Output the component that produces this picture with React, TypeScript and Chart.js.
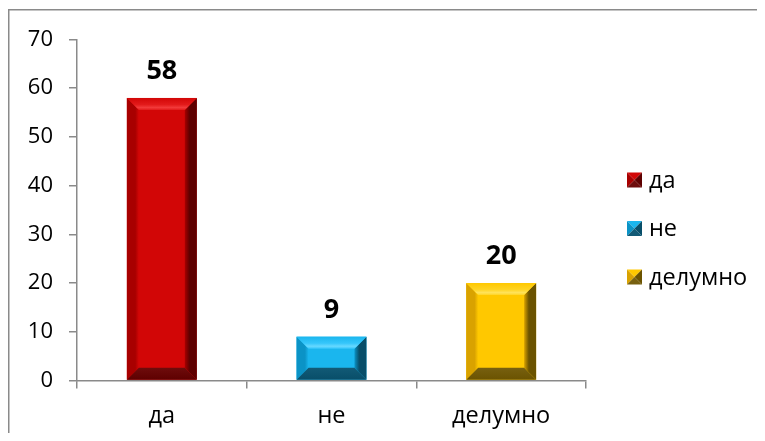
import React, { useEffect, useRef } from "react";
import { Chart, registerables } from "chart.js";

Chart.register(...registerables);

const categories = ["да", "не", "делумно"];
const values = [58, 9, 20];
const yTicksMin = 0;
const yTicksMax = 70;
const yTickStep = 10;

// style palette per bar: face, top, left, right, bottom
const palettes = [
  { face: "#D20606", top: "#E31A1A", hi: "#F23A3A", left: "#A80000", right: "#5E0000", bottom: "#6E0C0C" },
  { face: "#1AB6EE", top: "#36C6FB", hi: "#66D8FF", left: "#0B93C6", right: "#084E69", bottom: "#125A76" },
  { face: "#FFC800", top: "#FFD424", hi: "#FFE35C", left: "#D9A200", right: "#6B5300", bottom: "#776010" },
];

const FONT = "'Open Sans', 'Noto Sans', sans-serif";
const AXIS = "#8a8a8a";

function drawBevelRect(ctx: CanvasRenderingContext2D, l: number, t: number, r: number, b: number, p: any, bev: number) {
  const h = b - t;
  const w = r - l;
  const bv = Math.min(bev, h / 2, w / 2);
  ctx.save();
  ctx.fillStyle = p.face;
  ctx.fillRect(l, t, w, h);
  // left
  let g = ctx.createLinearGradient(l, 0, l + bv, 0);
  g.addColorStop(0, p.left);
  g.addColorStop(0.7, p.left);
  g.addColorStop(1, p.face);
  ctx.fillStyle = g;
  ctx.beginPath();
  ctx.moveTo(l, t); ctx.lineTo(l + bv, t + bv); ctx.lineTo(l + bv, b - bv); ctx.lineTo(l, b); ctx.closePath();
  ctx.fill();
  // right
  g = ctx.createLinearGradient(r - bv, 0, r, 0);
  g.addColorStop(0, p.left);
  g.addColorStop(0.4, p.right);
  g.addColorStop(1, p.right);
  ctx.fillStyle = g;
  ctx.beginPath();
  ctx.moveTo(r, t); ctx.lineTo(r - bv, t + bv); ctx.lineTo(r - bv, b - bv); ctx.lineTo(r, b); ctx.closePath();
  ctx.fill();
  // top
  g = ctx.createLinearGradient(0, t, 0, t + bv);
  g.addColorStop(0, p.face);
  g.addColorStop(0.55, p.top);
  g.addColorStop(0.8, p.hi);
  g.addColorStop(1, p.top);
  ctx.fillStyle = g;
  ctx.beginPath();
  ctx.moveTo(l, t); ctx.lineTo(r, t); ctx.lineTo(r - bv, t + bv); ctx.lineTo(l + bv, t + bv); ctx.closePath();
  ctx.fill();
  // bottom
  g = ctx.createLinearGradient(0, b - bv, 0, b);
  g.addColorStop(0, p.bottom);
  g.addColorStop(1, p.right);
  ctx.fillStyle = g;
  ctx.beginPath();
  ctx.moveTo(l, b); ctx.lineTo(r, b); ctx.lineTo(r - bv, b - bv); ctx.lineTo(l + bv, b - bv); ctx.closePath();
  ctx.fill();
  ctx.restore();
}

function drawLegendSquare(ctx: CanvasRenderingContext2D, x: number, y: number, s: number, p: any) {
  const cx = x + s / 2, cy = y + s / 2;
  const tri = (pts: number[][], c: string) => {
    ctx.fillStyle = c;
    ctx.beginPath();
    ctx.moveTo(pts[0][0], pts[0][1]);
    for (let i = 1; i < pts.length; i++) ctx.lineTo(pts[i][0], pts[i][1]);
    ctx.closePath();
    ctx.fill();
  };
  tri([[x, y], [x + s, y], [cx, cy]], p.face);
  tri([[x, y], [x, y + s], [cx, cy]], p.left);
  tri([[x + s, y], [x + s, y + s], [cx, cy]], p.right);
  tri([[x, y + s], [x + s, y + s], [cx, cy]], p.bottom);
}

const bevelPlugin = {
  id: "bevelBars",
  afterDatasetsDraw(chart: any) {
    const ctx = chart.ctx as CanvasRenderingContext2D;
    const meta = chart.getDatasetMeta(0);
    meta.data.forEach((bar: any, i: number) => {
      const { x, y, base, width } = bar.getProps(["x", "y", "base", "width"], true);
      drawBevelRect(ctx, x - width / 2, y, x + width / 2, base, palettes[i % palettes.length], 12);
      ctx.save();
      ctx.fillStyle = "#000";
      ctx.font = `bold 27px ${FONT}`;
      ctx.textAlign = "center";
      ctx.textBaseline = "alphabetic";
      ctx.fillText(String(chart.data.datasets[0].data[i]), x, y - 19);
      ctx.restore();
    });
  },
  afterDraw(chart: any) {
    const ctx = chart.ctx as CanvasRenderingContext2D;
    // frame (left and top visible)
    ctx.save();
    ctx.strokeStyle = AXIS;
    ctx.lineWidth = 1.5;
    ctx.beginPath();
    ctx.moveTo(0.75, chart.height);
    ctx.lineTo(0.75, 1.75);
    ctx.lineTo(chart.width, 1.75);
    ctx.stroke();
    // legend
    const labels = chart.data.labels as string[];
    const x0 = 619;
    const yc0 = 172;
    const step = 48.5;
    ctx.font = `23.5px ${FONT}`;
    ctx.textAlign = "left";
    ctx.textBaseline = "middle";
    labels.forEach((lab, i) => {
      const yc = yc0 + i * step;
      drawLegendSquare(ctx, x0, yc - 7.5, 15, palettes[i % palettes.length]);
      ctx.fillStyle = "#000";
      ctx.fillText(lab, x0 + 22, yc + 1);
    });
    ctx.restore();
  },
};

export default function App() {
  const ref = useRef<HTMLCanvasElement | null>(null);
  useEffect(() => {
    if (!ref.current) return;
    const chart = new Chart(ref.current, {
      type: "bar",
      data: {
        labels: categories,
        datasets: [
          {
            data: values,
            backgroundColor: "rgba(0,0,0,0)",
            categoryPercentage: 1,
            barPercentage: 0.412,
          },
        ],
      },
      options: {
        animation: false,
        responsive: false,
        maintainAspectRatio: false,
        layout: { padding: { top: 31.5, left: 0, right: 171, bottom: 0 } },
        plugins: { legend: { display: false }, tooltip: { enabled: false } },
        scales: {
          x: {
            offset: true,
            grid: { drawOnChartArea: false, drawTicks: true, tickLength: 8, color: AXIS, lineWidth: 1.5, offset: true },
            border: { color: AXIS, width: 1.5 },
            ticks: { color: "#000", font: { family: FONT, size: 23.5 }, padding: 14 },
            afterFit: (s: any) => { s.height = 52.5; },
          },
          y: {
            min: yTicksMin,
            max: yTicksMax,
            grid: { drawOnChartArea: false, drawTicks: true, tickLength: 8, color: AXIS, lineWidth: 1.5 },
            border: { color: AXIS, width: 1.5 },
            ticks: { stepSize: yTickStep, color: "#000", font: { family: FONT, size: 22 }, padding: 16 },
            afterFit: (s: any) => { s.width = 69; },
          },
        },
      },
      plugins: [bevelPlugin],
    });
    return () => chart.destroy();
  }, []);
  return (
    <div style={{ width: 749, height: 425 }}>
      <canvas ref={ref} width={749} height={425} style={{ display: "block" }} />
    </div>
  );
}
